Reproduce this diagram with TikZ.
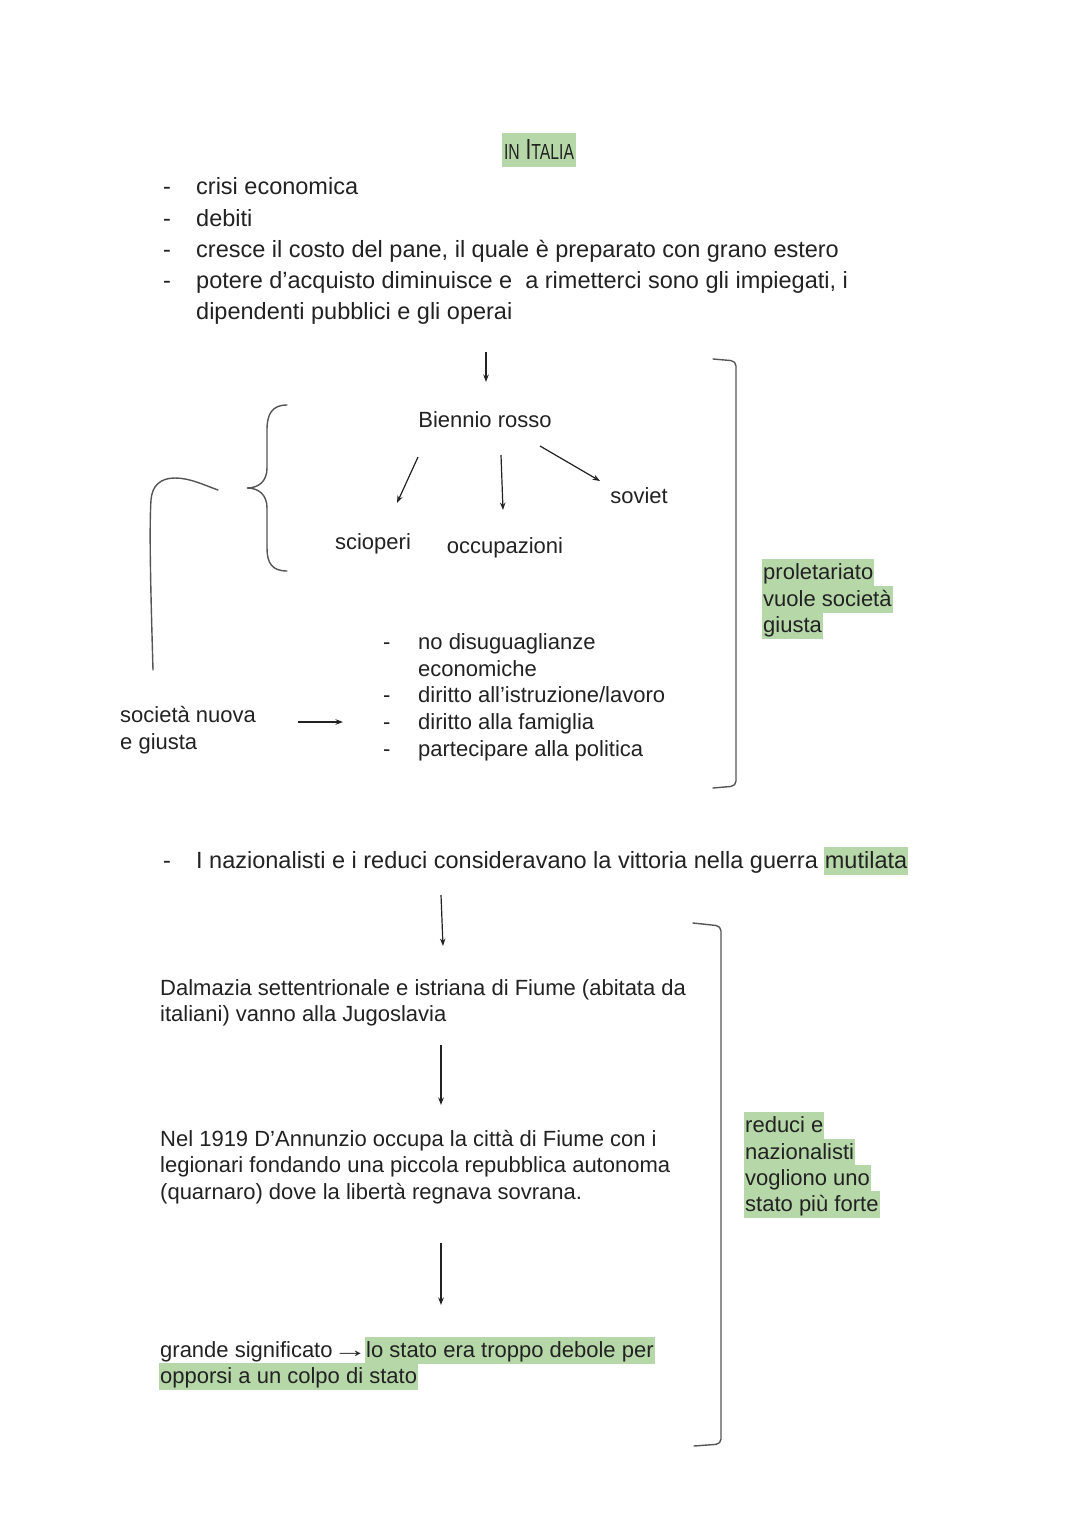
\documentclass[tikz,border=0pt]{standalone}
\usepackage{fontspec}
\usepackage{graphicx}
\setmainfont{Liberation Sans}
\usetikzlibrary{arrows.meta}
\definecolor{hl}{HTML}{B6D7A8}
\definecolor{ink}{HTML}{222222}
\definecolor{penc}{HTML}{555555}
\newcommand\bodyfont{\fontsize{22}{27}\selectfont}
\newcommand\bigfont{\fontsize{23.5}{28}\selectfont}
\begin{document}
\begin{tikzpicture}[x=1pt,y=-1pt,
  txt/.style={font=\bodyfont, text=ink, anchor=base west, inner sep=0pt},
  btxt/.style={txt, font=\bigfont},
  ctxt/.style={txt, anchor=base},
  hlbox/.style={txt, fill=hl, inner xsep=1pt, inner ysep=0.3pt, text height=20pt, text depth=6.5pt},
  arr/.style={draw=ink, line width=1.2pt, -{Stealth[length=7.5pt,width=5.5pt]}},
  penline/.style={draw=penc, line width=1.4pt, line cap=round}
]
\useasboundingbox[fill=white] (0,0) rectangle (1080,1525);

% title
\node[fill=hl, minimum width=74pt, minimum height=34pt, inner sep=0pt, text=ink] (title) at (539,150)
  {\resizebox{70pt}{20pt}{\fontsize{28}{28}\selectfont{\fontsize{21}{21}\selectfont IN} I{\fontsize{21}{21}\selectfont TALIA}}};

% bullet list
\node[btxt] (d1) at (163,195) {-};
\node[btxt] (b1) at (196,195) {crisi economica};
\node[btxt] (d2) at (163,226) {-};
\node[btxt] (b2) at (196,226) {debiti};
\node[btxt] (d3) at (163,257) {-};
\node[btxt] (b3) at (196,257) {cresce il costo del pane, il quale è preparato con grano estero};
\node[btxt] (d4) at (163,288) {-};
\node[btxt] (b4) at (196,288) {potere d’acquisto diminuisce e~ a rimetterci sono gli impiegati, i};
\node[btxt] (b4b) at (196,319) {dipendenti pubblici e gli operai};

% Biennio rosso
\coordinate (a0s) at (486,352);
\coordinate (a0e) at (486,382);
\draw[arr] (a0s) -- (a0e);
\node[ctxt] (br) at (485,427) {Biennio rosso};
\node[ctxt] (sc) at (373,549) {scioperi};
\node[ctxt] (oc) at (505,553) {occupazioni};
\node[ctxt] (so) at (639,503) {soviet};
\coordinate (a1s) at (418,457); \coordinate (a1e) at (397,503);
\coordinate (a2s) at (501,455); \coordinate (a2e) at (503,510);
\coordinate (a3s) at (540,446); \coordinate (a3e) at (600,481);
\draw[arr] (a1s) -- (a1e);
\draw[arr] (a2s) -- (a2e);
\draw[arr] (a3s) -- (a3e);

% brace
\draw[penline] (287,405) .. controls (272,405) and (267,414) .. (267,430) -- (267,468)
  .. controls (267,481) and (259,488) .. (247,488)
  .. controls (259,488) and (267,495) .. (267,508) -- (267,548)
  .. controls (267,563) and (272,571) .. (287,571);
% hook curve
\draw[penline] (153,670) .. controls (151,600) and (149,530) .. (151,500)
  .. controls (152,486) and (160,478) .. (175,478)
  .. controls (190,478) and (204,485) .. (218,490);

% society
\node[txt] (sn1) at (120,722) {società nuova};
\node[txt] (sn2) at (120,749) {e giusta};
\coordinate (a4s) at (298,722); \coordinate (a4e) at (343,722);
\draw[arr] (a4s) -- (a4e);

\node[txt] (l1d) at (383,649) {-};
\node[txt] (l1) at (418,649) {no disuguaglianze};
\node[txt] (l1b) at (418,676) {economiche};
\node[txt] (l2d) at (383,702) {-};
\node[txt] (l2) at (418,702) {diritto all’istruzione/lavoro};
\node[txt] (l3d) at (383,729) {-};
\node[txt] (l3) at (418,729) {diritto alla famiglia};
\node[txt] (l4d) at (383,756) {-};
\node[txt] (l4) at (418,756) {partecipare alla politica};

% bracket 1
\draw[penline, rounded corners=5pt] (713,359) -- (736,361) -- (736,786) -- (713,788);
\node[hlbox] (p1) at (762,579) {proletariato};
\node[hlbox] (p2) at (762,606) {vuole società};
\node[hlbox] (p3) at (762,632) {giusta};

% nazionalisti
\node[btxt] (d5) at (163,868) {-};
\node[btxt] (naz) at (196,868) {I nazionalisti e i reduci consideravano la vittoria nella guerra};
\node[hlbox, font=\bigfont, text height=21pt, text depth=6.5pt] (mut) at ([xshift=5.5pt]naz.base east) {mutilata};

\coordinate (a5s) at (441,895); \coordinate (a5e) at (443,946);
\draw[arr] (a5s) -- (a5e);
\node[txt] (dal1) at (160,995) {Dalmazia settentrionale e istriana di Fiume (abitata da};
\node[txt] (dal2) at (160,1021) {italiani) vanno alla Jugoslavia};
\coordinate (a6s) at (441,1045); \coordinate (a6e) at (441,1105);
\draw[arr] (a6s) -- (a6e);
\node[txt] (nel1) at (160,1146) {Nel 1919 D’Annunzio occupa la città di Fiume con i};
\node[txt] (nel2) at (160,1172) {legionari fondando una piccola repubblica autonoma};
\node[txt] (nel3) at (160,1199) {(quarnaro) dove la libertà regnava sovrana.};
\coordinate (a7s) at (441,1243); \coordinate (a7e) at (441,1305);
\draw[arr] (a7s) -- (a7e);
\node[txt] (gs) at (160,1357) {grande significato\scalebox{1.6}[1]{→}};
\node[hlbox] (gs2) at ([xshift=-3pt]gs.base east) {lo stato era troppo debole per};
\node[hlbox] (gs3) at (159,1383) {opporsi a un colpo di stato};

% bracket 2
\draw[penline, rounded corners=5pt] (693,923) -- (721,926) -- (721,1444) -- (694,1446);
\node[hlbox] (r1) at (744,1132) {reduci e};
\node[hlbox] (r2) at (744,1159) {nazionalisti};
\node[hlbox] (r3) at (744,1185) {vogliono uno};
\node[hlbox] (r4) at (744,1211) {stato più forte};
\end{tikzpicture}
\end{document}
